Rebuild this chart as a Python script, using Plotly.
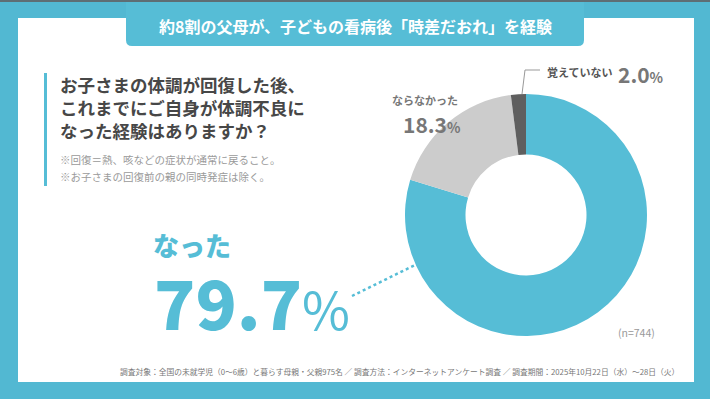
import plotly.graph_objects as go

# ---- data ----
labels = ["なった", "ならなかった", "覚えていない"]
values = [79.7, 18.3, 2.0]
colors = ["#56BDD6", "#CCCCCC", "#5F5F5F"]
n_total = 744
title_text = "約8割の父母が、子どもの看病後「時差だおれ」を経験"
question_lines = ["お子さまの体調が回復した後、", "これまでにご自身が体調不良に", "なった経験はありますか？"]
note_lines = ["※回復＝熱、咳などの症状が通常に戻ること。", "※お子さまの回復前の親の同時発症は除く。"]
footer = ("調査対象：全国の未就学児（0～6歳）と暮らす母親・父親975名 ／ 調査方法：インターネットアンケート調査 ／ "
          "調査期間：2025年10月22日（水）～28日（火）")

W, H = 710, 399
FONT = "Noto Sans CJK JP"


def px(x):
    return x / W


def py(y):
    return 1 - y / H


fig = go.Figure()
fig.add_trace(go.Pie(
    labels=labels, values=values, hole=0.5, sort=False, direction="clockwise",
    rotation=0, marker=dict(colors=colors, line=dict(width=0)),
    textinfo="none", hoverinfo="label+percent", showlegend=False,
    domain=dict(x=[px(405), px(647)], y=[py(336), py(94)]),
))

shapes = [
    # white panel
    dict(type="rect", xref="paper", yref="paper", x0=px(18), x1=px(694), y0=py(382), y1=py(18),
         fillcolor="white", line=dict(width=0), layer="below"),
    # top dark strip
    dict(type="rect", xref="paper", yref="paper", x0=0, x1=1, y0=py(2), y1=1,
         fillcolor="#5E6E74", line=dict(width=0), layer="below"),
    # title tab
    dict(type="path", xref="paper", yref="paper",
         path=(f"M {px(126)} {py(2)} L {px(126)} {py(40)} Q {px(126)} {py(46)} {px(132)} {py(46)} "
               f"L {px(578)} {py(46)} Q {px(584)} {py(46)} {px(584)} {py(40)} L {px(584)} {py(2)} Z"),
         fillcolor="#56BDD6", line=dict(width=0), layer="below"),
    # vertical bar
    dict(type="rect", xref="paper", yref="paper", x0=px(44), x1=px(47), y0=py(186), y1=py(73),
         fillcolor="#56BDD6", line=dict(width=0)),
    # dotted leader to big number
    dict(type="line", xref="paper", yref="paper", x0=px(352), y0=py(296), x1=px(415), y1=py(265),
         line=dict(color="#56BDD6", width=2.5, dash="dot")),
    # leader for 2.0%
    dict(type="path", xref="paper", yref="paper",
         path=f"M {px(522)} {py(94)} L {px(525)} {py(70)} L {px(540)} {py(70)}",
         line=dict(color="#999999", width=1)),
]

ann = []


def add(text, x, y, size, color, weight="normal", xanchor="left", yanchor="middle"):
    ann.append(dict(text=text, x=px(x), y=py(y), xref="paper", yref="paper", showarrow=False,
                    xanchor=xanchor, yanchor=yanchor,
                    font=dict(family=FONT, size=size, color=color, weight=weight)))


add(title_text, 355, 26, 16, "white", "bold", xanchor="center")
for i, line in enumerate(question_lines):
    add(line, 58, 84 + i * 23, 17.5, "#474747", "bold")
for i, line in enumerate(note_lines):
    add(line, 58, 159 + i * 17, 10.5, "#9A9A9A")
add(labels[0], 151, 244, 26, "#56BDD6", 900)
add(f"{values[0]}<span style='font-size:52px;font-weight:normal'>%</span>",
    152, 300, 68, "#56BDD6", 900)
add(labels[1], 390, 100, 11, "#777777", "bold")
add(f"{values[1]}<span style='font-size:14px'>%</span>", 401, 124, 21, "#777777", "bold")
add(labels[2], 545, 72, 11, "#555555", "bold")
add(f"{values[2]}<span style='font-size:14px'>%</span>", 616, 74, 21, "#777777", "bold")
add(f"(n={n_total})", 636, 332, 10.5, "#999999", xanchor="center")
add(footer, 681, 371, 7.75, "#777777", xanchor="right")

fig.update_layout(
    width=W, height=H, margin=dict(l=0, r=0, t=0, b=0),
    paper_bgcolor="#52B8D2", plot_bgcolor="#52B8D2",
    shapes=shapes, annotations=ann,
)
fig.write_html("out.html", config={"displayModeBar": False},
               post_script="document.body.style.margin='0';document.body.style.overflow='hidden';")
